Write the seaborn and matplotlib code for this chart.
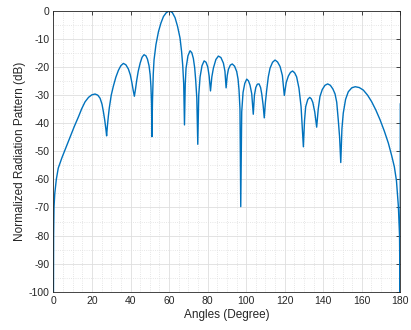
import numpy as np
import pandas as pd
import matplotlib
matplotlib.use("Agg")
import matplotlib.pyplot as plt
import seaborn as sns
from matplotlib.ticker import MultipleLocator

# Angles (degree) and normalized pattern (dB)
angles = [0.0, 0.1, 0.3, 0.7, 1.5, 2.5, 3.5, 4.4, 6.0, 7.3, 8.7, 10.8, 13.0, 14.7, 16.4, 18.2,
          19.9, 21.6, 23.0, 24.2, 25.2, 25.9, 26.6, 27.2, 27.6,
          28.0, 28.5, 29.0, 30.0, 31.1, 32.4, 33.7, 35.0, 36.3, 37.6, 38.9, 39.9, 40.7, 41.4, 42.0,
          42.6, 43.2, 44.0, 45.0, 46.0, 47.0, 48.0, 48.8, 49.6, 50.2, 50.6, 50.9, 51.1,
          51.4, 51.8, 52.2, 53.2, 54.5, 55.8, 57.1, 58.6, 60.2, 61.7, 63.1, 64.4, 65.7, 66.5,
          67.1, 67.6, 68.0,
          68.4, 68.8, 69.8, 70.9, 71.8, 72.6, 73.3, 73.8, 74.4, 74.9,
          75.4, 76.1, 77.1, 78.2, 79.2, 80.1, 80.8, 81.5,
          82.2, 83.0, 84.3, 85.6, 86.9, 88.2, 89.0, 89.6,
          90.2, 90.8, 91.8, 92.8, 94.0, 95.1, 95.8, 96.3, 96.8, 97.2,
          97.7, 98.4, 99.3, 100.3, 101.2, 102.0, 102.9, 103.7,
          104.3, 105.0, 105.8, 106.7, 107.5, 108.1, 108.8, 109.4,
          110.0, 110.7, 111.5, 112.4, 113.7, 115.0, 116.3, 117.6, 118.8, 119.8,
          120.8, 121.9, 123.0, 124.1, 125.2, 126.2, 127.4, 128.5, 129.7,
          130.3, 130.9, 132.0, 133.0, 133.8, 134.6, 135.6, 136.6,
          137.4, 138.3, 139.5, 140.9, 142.3, 143.7, 145.0, 146.1, 147.0, 147.8, 148.5, 149.1,
          149.7, 150.4, 151.6, 153.0, 154.8, 156.6, 158.7, 160.8, 163.0, 165.1, 167.3, 169.5,
          171.7, 173.8, 175.5, 176.9, 178.0, 179.0, 179.6, 179.9, 180.0]
pattern_db = [-105.0, -80.0, -70.0, -65.0, -60.0, -56.0, -54.0, -52.3, -49.5, -47.2, -44.8, -41.2, -37.7, -34.8, -32.4, -30.8,
              -29.9, -29.6, -30.0, -31.1, -33.2, -35.8, -38.8, -42.0, -44.5,
              -41.0, -37.5, -34.5, -30.0, -26.8, -23.6, -21.2, -19.5, -18.7, -19.2, -20.7, -22.8, -25.5, -28.3, -30.4,
              -27.8, -24.8, -21.5, -18.6, -16.5, -15.6, -16.0, -17.2, -19.5, -22.8, -27.0, -33.0, -44.8,
              -32.0, -22.5, -17.5, -12.0, -7.4, -4.3, -2.0, -0.6, 0.0, -0.6, -2.4, -5.5, -9.7, -14.5,
              -19.5, -26.0, -40.6,
              -26.0, -20.5, -16.0, -14.2, -14.9, -16.9, -20.3, -24.5, -31.0, -47.5,
              -30.0, -23.5, -19.5, -17.8, -18.3, -20.0, -23.2, -28.5,
              -23.5, -20.4, -17.3, -16.1, -16.6, -18.6, -21.5, -27.4,
              -23.0, -20.8, -19.3, -18.9, -19.7, -21.6, -24.3, -28.1, -35.0, -69.7,
              -36.0, -29.0, -25.8, -24.3, -24.9, -26.4, -29.5, -36.8,
              -30.0, -27.3, -26.1, -26.0, -27.3, -29.6, -33.5, -38.1,
              -32.5, -28.0, -23.5, -20.4, -18.3, -17.5, -18.2, -19.8, -23.0, -30.1,
              -25.5, -23.2, -21.9, -21.4, -22.1, -23.5, -27.5, -34.1, -48.4,
              -39.0, -34.1, -31.5, -30.8, -31.3, -32.6, -36.0, -41.4,
              -35.0, -30.5, -28.0, -26.5, -26.0, -26.5, -27.8, -29.5, -32.5, -38.8, -45.0, -54.0,
              -42.0, -36.4, -31.5, -28.8, -27.4, -27.0, -27.3, -28.2, -30.0, -32.3, -35.3, -38.8,
              -42.8, -47.1, -51.5, -55.5, -60.5, -69.7, -80.0, -105.0, -33.0]

df = pd.DataFrame({"angle": angles, "db": pattern_db})

sns.set_style("white")
plt.rcParams['font.family'] = ['Liberation Sans', 'DejaVu Sans']
plt.rcParams['axes.unicode_minus'] = False

fig = plt.figure(figsize=(4.11, 3.30), dpi=100)
ax = fig.add_axes([0.13, 0.116, 0.844, 0.851])

sns.lineplot(data=df, x="angle", y="db", ax=ax, color="#0072BD", linewidth=1.0,
             sort=False, estimator=None)

ax.set_xlim(0, 180)
ax.set_ylim(-100, 0)
ax.xaxis.set_major_locator(MultipleLocator(20))
ax.yaxis.set_major_locator(MultipleLocator(10))
ax.xaxis.set_minor_locator(MultipleLocator(5))
ax.yaxis.set_minor_locator(MultipleLocator(5))
ax.grid(True, which="major", color="#dedede", linewidth=0.6, linestyle="-")
ax.grid(True, which="minor", color="#dedede", linewidth=0.6, linestyle=":")
ax.set_axisbelow(True)

ax.tick_params(which="major", direction="in", length=3, width=0.6, top=True, right=True,
               labelsize=7.5, colors="#262626", pad=3)
ax.tick_params(which="minor", length=0, top=True, right=True)
for s in ax.spines.values():
    s.set_color("#262626")
    s.set_linewidth(0.6)

ax.set_xlabel("Angles (Degree)", fontsize=8.5, color="#262626", labelpad=2)
ax.set_ylabel("Normalized Radiation Pattern (dB)", fontsize=8.5, color="#262626", labelpad=2)

fig.savefig("out.png", dpi=100)
